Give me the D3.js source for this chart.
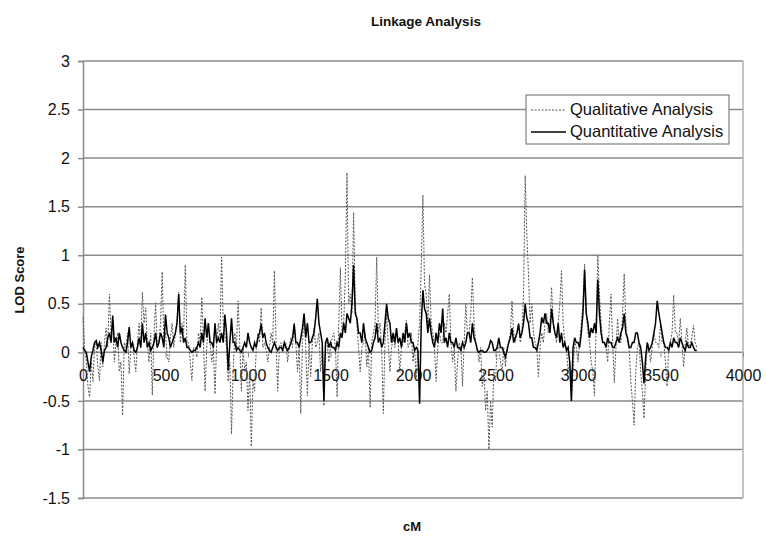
<!doctype html>
<html>
  <head>
    <meta charset="utf-8">
    <title>Linkage Analysis</title>
    <script src="https://cdnjs.cloudflare.com/ajax/libs/d3/7.8.5/d3.min.js"></script>
    <style>
      body { margin: 0; background: #fff; }
      text { font-family: "Liberation Sans", Arial, sans-serif; fill: #111; }
    </style>
  </head>
  <body>
    <div id="chart"></div>
    <script>
      // positions along the genome, every 10 cM
      const cM = d3.range(0, 3721, 10);

      // qualitative LOD scores (dotted line), one row = 200 cM
      const qualitative = [
        0.36, 0.05, -0.1, -0.35, -0.46, -0.1, -0.3, 0.05, 0.1, -0.15, -0.29, 0.1, -0.15, 0.1, 0.25, 0.05, 0.6, 0.2, 0.3, -0.1,
        0.1, 0.2, -0.2, -0.1, -0.65, 0.1, 0.05, 0.2, -0.22, 0.05, 0.1, -0.05, -0.2, 0.1, 0.3, 0.05, 0.62, 0.3, 0.46, 0.1,
        -0.1, 0.2, -0.44, 0.15, 0.51, 0.05, 0.1, 0.3, 0.83, 0.1, 0.2, -0.05, -0.1, 0.15, 0.3, 0.05, 0.2, 0.35, 0.62, 0.1,
        0.3, 0.2, 0.9, 0.1, 0.1, -0.1, -0.29, 0.05, 0.05, -0.05, 0.2, 0.1, 0.57, 0.1, -0.4, 0.05, 0.3, 0.1, -0.1, 0.05,
        -0.43, 0.1, 0.3, 0.15, 0.98, 0.3, 0.2, 0.05, -0.3, -0.1, -0.84, -0.2, 0.2, 0.05, 0.53, 0.1, -0.4, 0.05, -0.2, -0.1,
        -0.6, -0.2, -0.97, -0.3, -0.4, 0.05, 0.2, 0.1, 0.46, 0.05, 0.1, 0.02, -0.1, 0.05, 0.2, 0.1, 0.84, 0.1, -0.4, 0.05,
        0.1, 0.02, 0.05, 0.1, -0.1, 0.05, 0.15, 0.05, 0.3, 0.1, -0.2, 0.05, -0.63, 0.1, 0.4, 0.05, -0.45, 0.1, -0.25, 0.1,
        0.25, 0.05, 0.1, 0.2, -0.2, 0.05, -0.55, 0.1, 0.1, -0.1, 0.05, 0.15, 0.2, 0.05, -0.46, 0.3, 0.87, 0.2, 0.3, 0.8,
        1.85, 0.5, 0.6, 0.4, 1.44, 0.5, 0.3, 0.05, -0.2, 0.05, 0.1, 0.2, -0.15, 0.05, -0.57, 0.1, 0.2, 0.3, 0.98, 0.2,
        0.3, 0.05, -0.63, 0.1, 0.4, 0.1, -0.2, 0.05, 0.15, 0.05, 0.2, 0.1, -0.2, 0.05, 0.1, 0.2, 0.33, 0.05, 0.1, 0.2,
        -0.1, 0.05, -0.3, 0.1, 0.3, 0.9, 1.62, 0.7, 0.6, 0.3, 0.8, 0.3, 0.2, 0.05, -0.3, 0.05, 0.2, 0.1, 0.1, 0.3,
        0.2, 0.4, 0.6, 0.1, -0.1, 0.05, -0.4, -0.1, 0.1, 0.05, -0.35, 0.1, 0.5, 0.2, 0.2, 0.4, 0.77, 0.3, 0.1, 0.05,
        -0.1, 0.05, -0.35, -0.2, -0.6, -0.4, -1.0, -0.5, -0.77, -0.2, -0.3, 0.05, 0.05, -0.1, -0.2, 0.05, -0.15, 0.05, 0.1, 0.2,
        0.53, 0.2, 0.1, 0.2, 0.3, 0.1, 0.2, 0.6, 1.82, 1.2, 0.8, 0.3, 0.5, 0.2, 0.1, 0.05, -0.25, 0.05, 0.2, 0.1,
        0.3, 0.4, 0.2, 0.3, 0.67, 0.3, 0.2, 0.1, 0.3, 0.5, 0.84, 0.3, 0.1, 0.05, -0.2, -0.1, -0.5, -0.2, 0.1, 0.05,
        -0.1, 0.1, 0.3, 0.5, 0.91, 0.4, 0.2, 0.1, -0.1, -0.2, -0.45, 0.3, 1.0, 0.6, 0.3, 0.1, 0.1, 0.05, -0.1, 0.3,
        0.6, 0.1, -0.31, 0.05, 0.35, 0.1, 0.1, 0.4, 0.81, 0.3, 0.1, 0.05, -0.3, -0.5, -0.75, -0.2, 0.05, 0.1, -0.2, -0.4,
        -0.68, -0.2, 0.1, 0.05, -0.1, 0.05, 0.2, 0.1, 0.1, 0.05, 0.3, 0.1, 0.1, -0.1, -0.35, 0.05, 0.1, 0.2, 0.59, 0.2,
        0.2, 0.1, 0.35, 0.1, -0.15, 0.1, 0.25, 0.05, 0.1, 0.15, 0.28, 0.1, 0.05
      ];

      // quantitative LOD scores (solid line), one row = 200 cM
      const quantitative = [
        0.05, 0.02, 0.0, -0.1, -0.2, -0.05, 0.02, 0.1, 0.12, 0.05, 0.1, 0.02, -0.1, 0.02, 0.05, 0.15, 0.2, 0.1, 0.38, 0.1,
        0.15, 0.05, 0.2, 0.1, 0.05, 0.02, 0.0, 0.1, 0.26, 0.05, 0.1, 0.02, 0.0, 0.05, 0.15, 0.05, 0.3, 0.1, 0.2, 0.05,
        0.1, 0.02, 0.05, 0.1, 0.2, 0.05, 0.1, 0.2, 0.15, 0.05, 0.39, 0.2, 0.15, 0.05, 0.1, 0.15, 0.2, 0.3, 0.6, 0.2,
        0.25, 0.1, 0.15, 0.05, 0.05, 0.02, 0.0, 0.02, 0.02, 0.05, 0.1, 0.05, 0.2, 0.1, 0.35, 0.15, 0.3, 0.1, 0.1, 0.05,
        0.3, 0.1, 0.15, 0.1, 0.2, 0.1, 0.39, 0.2, -0.19, 0.1, 0.35, 0.1, 0.1, 0.02, 0.05, 0.02, 0.0, 0.05, 0.1, 0.05,
        0.2, 0.1, 0.05, 0.02, 0.1, 0.05, 0.15, 0.2, 0.29, 0.15, 0.2, 0.1, 0.05, 0.02, 0.0, 0.05, 0.1, 0.05, 0.02, 0.05,
        0.05, 0.02, 0.1, 0.05, 0.02, 0.05, 0.1, 0.15, 0.29, 0.1, 0.1, 0.05, 0.15, 0.25, 0.4, 0.15, 0.3, 0.1, 0.1, 0.15,
        0.2, 0.35, 0.55, 0.3, 0.2, 0.1, -0.5, 0.1, 0.15, 0.05, 0.1, 0.05, 0.05, 0.02, 0.1, 0.05, 0.2, 0.15, 0.3, 0.2,
        0.4, 0.35, 0.3, 0.5, 0.9, 0.4, 0.35, 0.2, 0.2, 0.1, 0.3, 0.15, 0.1, 0.05, 0.0, 0.02, 0.1, 0.15, 0.3, 0.1,
        0.15, 0.05, 0.1, 0.3, 0.5, 0.35, 0.3, 0.1, 0.2, 0.1, 0.25, 0.1, 0.15, 0.05, 0.2, 0.1, 0.3, 0.15, 0.2, 0.1,
        0.1, 0.02, 0.05, 0.02, -0.53, 0.3, 0.64, 0.45, 0.4, 0.2, 0.35, 0.2, 0.1, 0.05, 0.2, 0.1, 0.3, 0.2, 0.45, 0.1,
        0.15, 0.05, 0.2, 0.1, 0.1, 0.05, 0.15, 0.05, 0.05, 0.02, 0.1, 0.05, 0.1, 0.2, 0.2, 0.1, 0.3, 0.15, 0.1, 0.02,
        0.0, 0.02, 0.02, 0.0, 0.0, 0.02, 0.05, 0.12, 0.1, 0.02, 0.02, 0.05, 0.15, 0.05, 0.05, 0.0, -0.05, 0.02, 0.1, 0.15,
        0.25, 0.1, 0.15, 0.2, 0.29, 0.15, 0.2, 0.3, 0.5, 0.35, 0.3, 0.15, 0.15, 0.05, 0.05, 0.02, 0.1, 0.2, 0.36, 0.3,
        0.4, 0.3, 0.3, 0.2, 0.45, 0.3, 0.2, 0.15, 0.3, 0.1, 0.2, 0.05, 0.1, 0.02, 0.05, -0.1, -0.5, 0.05, 0.15, 0.1,
        0.1, 0.05, 0.2, 0.4, 0.85, 0.4, 0.3, 0.15, 0.25, 0.2, 0.3, 0.2, 0.75, 0.4, 0.2, 0.1, 0.1, 0.05, 0.15, 0.1,
        0.1, 0.05, 0.05, 0.1, 0.15, 0.1, 0.2, 0.25, 0.4, 0.2, 0.15, 0.05, 0.05, 0.1, 0.1, 0.2, 0.2, 0.1, 0.05, -0.1,
        -0.32, -0.05, 0.1, 0.02, 0.05, 0.1, 0.2, 0.3, 0.53, 0.4, 0.3, 0.2, 0.1, 0.05, 0.05, 0.02, 0.1, 0.05, 0.15, 0.1,
        0.1, 0.05, 0.15, 0.1, 0.05, 0.02, 0.1, 0.05, 0.05, 0.1, 0.05, 0.02, 0.02
      ];

      const xTicks = [0, 500, 1000, 1500, 2000, 2500, 3000, 3500, 4000];
      const yTicks = [-1.5, -1, -0.5, 0, 0.5, 1, 1.5, 2, 2.5, 3];
      const seriesNames = ['Qualitative Analysis', 'Quantitative Analysis'];

      const width = 766, height = 541;
      const margin = {left: 83, right: 743, top: 61, bottom: 498};

      const svg = d3.select('#chart')
        .append('svg')
        .attr('width', width)
        .attr('height', height);

      const x = d3.scaleLinear().domain([0, 4000]).range([margin.left, margin.right]);
      const y = d3.scaleLinear().domain([-1.5, 3]).range([margin.bottom, margin.top]);

      // horizontal gridlines
      svg.append('g')
        .selectAll('line')
        .data(yTicks)
        .join('line')
        .attr('x1', margin.left).attr('x2', margin.right)
        .attr('y1', d => y(d)).attr('y2', d => y(d))
        .attr('stroke', '#8a8a8a')
        .attr('stroke-width', 1.5);

      // right border
      svg.append('line')
        .attr('x1', margin.right).attr('x2', margin.right)
        .attr('y1', margin.top).attr('y2', margin.bottom)
        .attr('stroke', '#b0b0b0')
        .attr('stroke-width', 1.5);

      // y axis
      const yAxis = svg.append('g')
        .attr('transform', `translate(${margin.left},0)`)
        .call(d3.axisLeft(y).tickValues(yTicks).tickSize(5).tickPadding(8)
          .tickFormat(d => String(d)));
      yAxis.select('.domain').attr('stroke', '#8a8a8a').attr('stroke-width', 1.5);
      yAxis.selectAll('.tick line').attr('stroke', '#8a8a8a').attr('stroke-width', 1.5);
      yAxis.selectAll('text')
        .style('font-size', '16px')
        .style('font-family', '"Liberation Sans", Arial, sans-serif')
        .attr('fill', '#111');

      // x axis labels sit on the zero line
      const xAxis = svg.append('g')
        .attr('transform', `translate(0,${y(0)})`)
        .call(d3.axisBottom(x).tickValues(xTicks).tickSize(5).tickPadding(12)
          .tickFormat(d3.format('d')));
      xAxis.select('.domain').remove();
      xAxis.selectAll('.tick line').attr('stroke', '#8a8a8a');
      xAxis.selectAll('text')
        .style('font-size', '16px')
        .style('font-family', '"Liberation Sans", Arial, sans-serif')
        .attr('fill', '#111');

      // series lines
      const line = d3.line()
        .x((d, i) => x(cM[i]))
        .y(d => y(d));

      svg.append('path')
        .datum(qualitative)
        .attr('d', line)
        .attr('fill', 'none')
        .attr('stroke', '#555')
        .attr('stroke-width', 1)
        .attr('stroke-dasharray', '2,1.5');

      svg.append('path')
        .datum(quantitative)
        .attr('d', line)
        .attr('fill', 'none')
        .attr('stroke', '#000')
        .attr('stroke-width', 1.5);

      // titles
      svg.append('text')
        .attr('x', 426).attr('y', 26)
        .attr('text-anchor', 'middle')
        .style('font-size', '13.5px').style('font-weight', 'bold')
        .text('Linkage Analysis');

      svg.append('text')
        .attr('transform', 'translate(24,280) rotate(-90)')
        .attr('text-anchor', 'middle')
        .style('font-size', '13px').style('font-weight', 'bold')
        .text('LOD Score');

      svg.append('text')
        .attr('x', 412).attr('y', 531)
        .attr('text-anchor', 'middle')
        .style('font-size', '13px').style('font-weight', 'bold')
        .text('cM');

      // legend
      const legend = svg.append('g').attr('transform', 'translate(526,95)');
      legend.append('rect')
        .attr('width', 203).attr('height', 49)
        .attr('fill', '#fff')
        .attr('stroke', '#666')
        .attr('stroke-width', 1);

      const items = legend.selectAll('g.item')
        .data(seriesNames)
        .join('g')
        .attr('class', 'item')
        .attr('transform', (d, i) => `translate(0,${15 + i * 22})`);

      items.append('line')
        .attr('x1', 5).attr('x2', 40)
        .attr('stroke', (d, i) => i === 0 ? '#555' : '#000')
        .attr('stroke-width', (d, i) => i === 0 ? 1 : 1.5)
        .attr('stroke-dasharray', (d, i) => i === 0 ? '2,1.5' : null);

      items.append('text')
        .attr('x', 44).attr('y', 5)
        .style('font-size', '16.5px')
        .text(d => d);
    </script>
  </body>
</html>
